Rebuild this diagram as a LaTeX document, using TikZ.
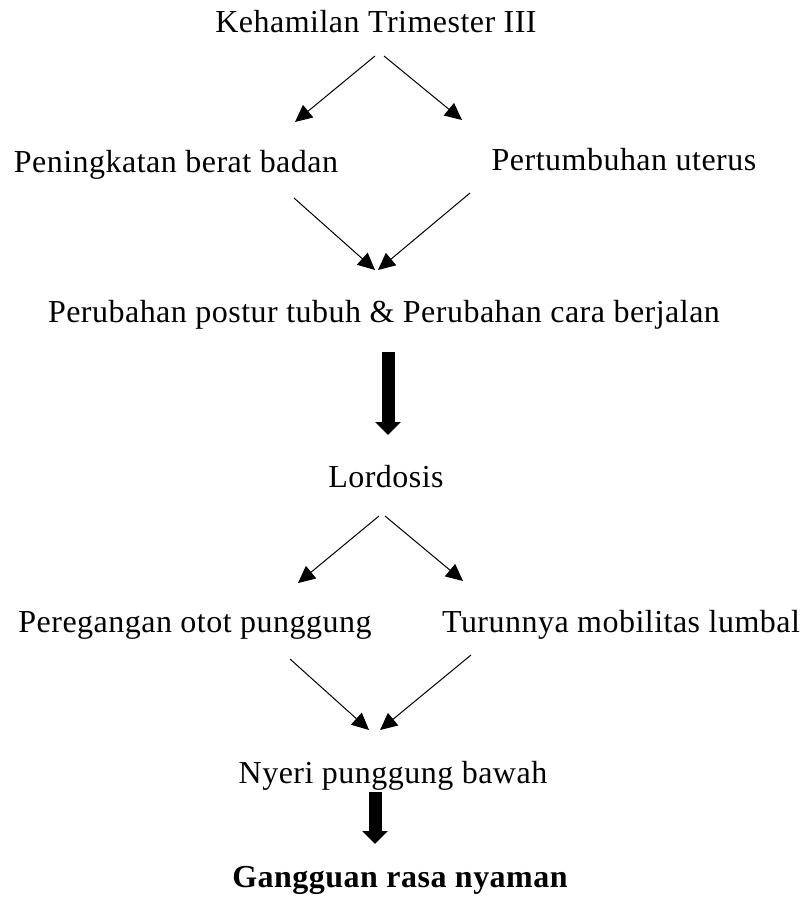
\documentclass[tikz,border=0pt]{standalone}
\usepackage{fontspec}
\setmainfont{Liberation Serif}[LetterSpace=1.5]
\usetikzlibrary{arrows.meta}
\begin{document}
\begin{tikzpicture}[x=0.5pt,y=-0.5pt,
        teks/.style={anchor=base,inner sep=0pt,font=\fontsize{16}{19}\selectfont},
        panah/.style={line width=0.5pt,-{Triangle[length=8.5pt,width=8pt]}},
        tebal/.style={line width=6.5pt,-{Triangle[length=6.5pt,width=12.5pt]}}]
        \useasboundingbox (0,0) rectangle (806,903);

        \node[teks] (hamil) at (376,33) {Kehamilan Trimester III};
        \node[teks] (berat) at (176,173) {Peningkatan berat badan};
        \node[teks] (uterus) at (624,171) {Pertumbuhan uterus};
        \node[teks] (postur) at (384,322) {Perubahan postur tubuh \& Perubahan cara berjalan};
        \node[teks] (lordosis) at (386,487) {Lordosis};
        \node[teks] (otot) at (195,632) {Peregangan otot punggung};
        \node[teks] (lumbal) at (621,632) {Turunnya mobilitas lumbal};
        \node[teks] (nyeri) at (393,783) {Nyeri punggung bawah};
        \node[teks,font=\fontsize{16}{19}\selectfont\bfseries] (nyaman) at (400,887) {Gangguan rasa nyaman};

        \draw[panah] ([shift={(-1,23)}]hamil.base) -- ([shift={(119,-51)}]berat.base);
        \draw[panah] ([shift={(8,23)}]hamil.base) -- ([shift={(-162,-51)}]uterus.base);
        \draw[panah] ([shift={(118,25)}]berat.base) -- ([shift={(-9,-52)}]postur.base);
        \draw[panah] ([shift={(-154,22)}]uterus.base) -- ([shift={(-6,-52)}]postur.base);
        \draw[tebal] ([shift={(4,30)}]postur.base) -- ([shift={(2,-52)}]lordosis.base);

        \draw[panah] ([shift={(-7,29)}]lordosis.base) -- ([shift={(103,-49)}]otot.base);
        \draw[panah] ([shift={(-1,29)}]lordosis.base) -- ([shift={(-158,-51)}]lumbal.base);
        \draw[panah] ([shift={(95,27)}]otot.base) -- ([shift={(-24,-53)}]nyeri.base);
        \draw[panah] ([shift={(-150,23)}]lumbal.base) -- ([shift={(-13,-53)}]nyeri.base);
        \draw[tebal] ([shift={(-18,9)}]nyeri.base) -- ([shift={(-25,-43)}]nyaman.base);
    \end{tikzpicture}
\end{document}
